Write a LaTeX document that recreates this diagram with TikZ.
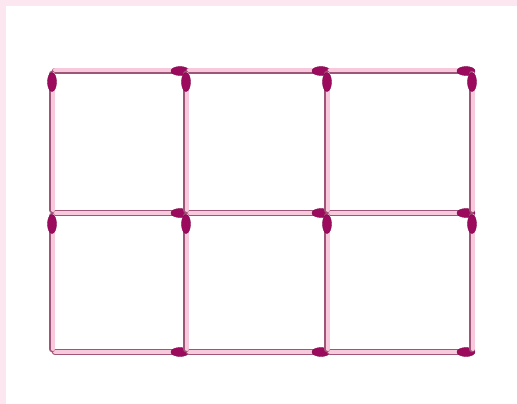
\documentclass[tikz,border=0pt]{standalone}
\usetikzlibrary{calc}
\definecolor{bgpink}{HTML}{FCE6EF}
\definecolor{stickpink}{HTML}{F8C8DC}
\definecolor{edgecol}{HTML}{9E5577}
\definecolor{headred}{HTML}{9C0A5E}

\begin{document}
\begin{tikzpicture}[x=1pt, y=-1pt, line cap=round, line join=round,
    stick outline/.style={line width=6.5pt, draw=edgecol},
    stick body/.style={line width=4pt, draw=stickpink},
    match head/.style={fill=headred, draw=headred!80!black, line width=0.4pt}]
    % background frame
    \fill[bgpink] (0,0) rectangle (517,404);
    \fill[white] (6,6) rectangle (517,404);
    \useasboundingbox (0,0) rectangle (517,404);
    % horizontal sticks, head on the right
    \foreach \y in {71,213,352}{
      \foreach \xa/\xb in {52/186,186/327,327/472}{
        \draw[stick outline] (\xa+3,\y) -- (\xb-3,\y);
        \draw[stick body] (\xa+3,\y-0.5) -- (\xb-3,\y-0.5);
        \filldraw[match head] (\xb-6,\y) ellipse (9 and 4.5);
      }
    }
    % vertical sticks, head on top
    \foreach \x in {52,186,327,472}{
      \foreach \ya/\yb in {71/213,213/352}{
        \draw[stick outline] (\x,\ya+3) -- (\x,\yb-3);
        \draw[stick body] (\x+0.5,\ya+3) -- (\x+0.5,\yb-3);
        \filldraw[match head] (\x,\ya+11) ellipse (4.5 and 9.5);
      }
    }
\end{tikzpicture}
\end{document}
